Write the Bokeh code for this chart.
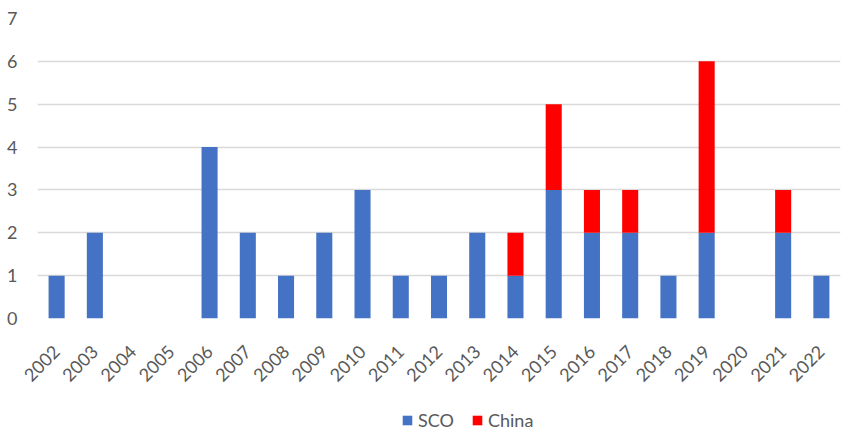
import math
from bokeh.plotting import figure
from bokeh.layouts import column
from bokeh.models import FactorRange, Range1d, Legend, LegendItem, ColumnDataSource, FixedTicker
from bokeh.embed import file_html
from bokeh.resources import INLINE

years = [str(y) for y in range(2002, 2023)]
sco = [1, 2, 0, 0, 4, 2, 1, 2, 3, 1, 1, 2, 1, 3, 2, 2, 1, 2, 0, 2, 1]
china = [0, 0, 0, 0, 0, 0, 0, 0, 0, 0, 0, 0, 1, 2, 1, 1, 0, 4, 0, 1, 0]
series = ["SCO", "China"]
colors = ["#4472C4", "#FF0000"]
y_ticks = [0, 1, 2, 3, 4, 5, 6, 7]

src = ColumnDataSource(dict(year=years, SCO=sco, China=china))
font = "Lato"

# main chart
p = figure(x_range=FactorRange(*years, range_padding=0), y_range=Range1d(0, 7),
           width=843, height=400, output_backend="svg", toolbar_location=None,
           min_border_left=37, min_border_right=3, min_border_top=18, min_border_bottom=82)
p.outline_line_color = None
p.vbar_stack(series, x="year", source=src, width=0.42, color=colors, line_color=None)

p.yaxis.ticker = FixedTicker(ticks=y_ticks)
p.yaxis.axis_line_color = None
p.yaxis.major_tick_line_color = None
p.yaxis.minor_tick_line_color = None
p.yaxis.major_tick_out = 0
p.yaxis.minor_tick_out = 0
p.yaxis.major_label_standoff = 20
p.yaxis.major_label_text_font = font
p.yaxis.major_label_text_font_size = "18px"
p.yaxis.major_label_text_color = "#595959"

p.xaxis.axis_line_color = None
p.xaxis.major_tick_line_color = None
p.xaxis.major_tick_out = 0
p.xaxis.major_label_orientation = math.pi / 4
p.xaxis.major_label_text_font = font
p.xaxis.major_label_text_font_size = "18px"
p.xaxis.major_label_text_color = "#595959"
p.xaxis.major_label_standoff = 30

p.xgrid.grid_line_color = None
p.ygrid.grid_line_color = "#D9D9D9"
p.ygrid.grid_line_width = 1.5

# legend strip below the chart
lg = figure(x_range=FactorRange(*years, range_padding=0), y_range=Range1d(100, 101),
            width=843, height=32, output_backend="svg", toolbar_location=None,
            x_axis_location=None, y_axis_location=None,
            min_border_left=0, min_border_right=0, min_border_top=0, min_border_bottom=0)
lg.outline_line_color = None
lg.grid.grid_line_color = None
lg_renderers = lg.vbar_stack(series, x="year", source=src, width=0.42, color=colors, line_color=None)

legend = Legend(items=[LegendItem(label=s, renderers=[r]) for s, r in zip(series, lg_renderers)],
                orientation="horizontal", location=(364, 1),
                border_line_color=None, background_fill_alpha=0,
                label_text_font=font, label_text_font_size="18px", label_text_color="#595959",
                glyph_width=12, glyph_height=12, spacing=17, margin=0, padding=0,
                label_standoff=5, label_height=18)
lg.add_layout(legend, "center")

layout = column(p, lg, spacing=0)
open("out.html", "w").write(file_html(layout, INLINE))
